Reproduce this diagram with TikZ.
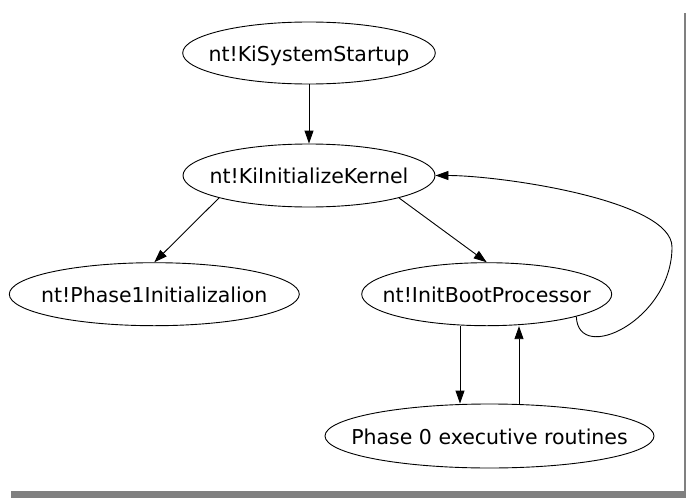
\documentclass[tikz,border=0pt]{standalone}
\usepackage{fontspec}
\setmainfont{DejaVu Sans}
\usetikzlibrary{shapes.geometric,arrows.meta}
\begin{document}
\begin{tikzpicture}[x=1pt,y=-1pt,
  ell/.style={draw,ellipse,inner sep=0pt,line width=0.9pt},
  lbl/.style={inner sep=0pt,font=\fontsize{20.5}{24}\selectfont,text height=16pt,text depth=0pt},
  arr/.style={line width=0.9pt,-{Triangle[length=13pt,width=9pt]}},
  shadow/.style={fill=black!50,draw=none}]
\useasboundingbox[fill=white] (0,0) rectangle (686,498);
\fill[shadow] (684,13) rectangle (686,491);
\fill[shadow] (11,491) rectangle (686,498);

\node[ell,minimum width=252.6pt,minimum height=62pt] (A) at (309,53) {};
\node[lbl] (At) at (A.center) {nt!KiSystemStartup};
\node[ell,minimum width=252pt,minimum height=63pt] (B) at (309,175.5) {};
\node[lbl] (Bt) at (B.center) {nt!KiInitializeKernel};
\node[ell,minimum width=290pt,minimum height=63pt] (C) at (154.3,294.2) {};
\node[lbl] (Ct) at (C.center) {nt!Phase1Initializalion};
\node[ell,minimum width=250pt,minimum height=63pt] (D) at (486.7,294.2) {};
\node[lbl] (Dt) at (D.center) {nt!InitBootProcessor};
\node[ell,minimum width=329pt,minimum height=64pt] (E) at (489.5,436) {};
\node[lbl] (Et) at (E.center) {Phase 0 executive routines};

\draw[arr] (A.south) -- (B.north);
\draw[arr] (B.194.8) -- (C.north);
\draw[arr] (B.-14) -- (D.north);
\draw[arr] ([xshift=-29.5pt]E.north |- D.south) -- ([xshift=-29.5pt]E.north);
\draw[arr] ([xshift=29.5pt]E.north) -- ([xshift=29.5pt]E.north |- D.south);
\draw[arr] (D.-14) .. controls (578,365) and (672,320) .. (672,247)
  .. controls (672,200) and (500,175.5) .. (B.east);
\end{tikzpicture}
\end{document}
